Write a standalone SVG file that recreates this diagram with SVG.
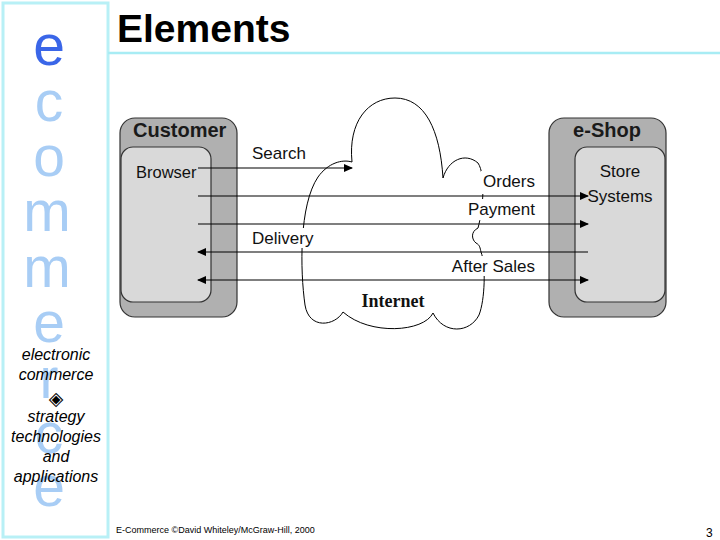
<svg xmlns="http://www.w3.org/2000/svg" width="720" height="540" viewBox="0 0 720 540">
<style>
.side{font-family:"Liberation Sans",Arial,sans-serif;font-size:57px;text-anchor:middle;fill:#a8cdf5}
.it{font-family:"Liberation Sans",Arial,sans-serif;font-size:16px;font-style:italic;text-anchor:middle;fill:#000}
.hdr{font-family:"Liberation Sans",Arial,sans-serif;font-size:20px;font-weight:bold;fill:#1a1a1a}
.lbl{font-family:"Liberation Sans",Arial,sans-serif;font-size:17px;fill:#111}
.outer{fill:#b0b0b0;stroke:#333;stroke-width:1.2}
.inner{fill:#d9d9d9;stroke:#333;stroke-width:1.2}
.ln{stroke:#000;stroke-width:1.2;fill:none}
.bg{fill:#fff}
</style>
<defs>
<marker id="ah" markerWidth="9" markerHeight="8" refX="8" refY="4" orient="auto-start-reverse" markerUnits="userSpaceOnUse">
<path d="M0,0 L9,4 L0,8 Z" fill="#000"/>
</marker>
</defs>
<rect width="720" height="540" fill="#fff"/>
<g id="frame">
<rect x="3" y="3" width="105" height="534" fill="none" stroke="#b8f0f6" stroke-width="3"/>
<line x1="108" y1="53" x2="720" y2="53" stroke="#a8ecf4" stroke-width="2.5"/>
</g>
<g id="sidebar">
<text class="side" x="49" y="65" style="fill:#3a66e8">e</text>
<text class="side" x="49" y="121">c</text>
<text class="side" x="49" y="176">o</text>
<text class="side" x="47" y="231">m</text>
<text class="side" x="47" y="287">m</text>
<text class="side" x="49" y="342">e</text>
<text class="side" x="49" y="398">r</text>
<text class="side" x="49" y="453">c</text>
<text class="side" x="49" y="506">e</text>
<text class="it" x="56" y="360">electronic</text>
<text class="it" x="56" y="380">commerce</text>
<text x="56" y="405" style="font-family:'DejaVu Sans',sans-serif;font-size:19px;text-anchor:middle;fill:#000">◈</text>
<text class="it" x="56" y="422">strategy</text>
<text class="it" x="56" y="442">technologies</text>
<text class="it" x="56" y="462">and</text>
<text class="it" x="56" y="482">applications</text>
</g>
<g id="title">
<text x="117" y="42" style="font-family:'Liberation Sans',Arial,sans-serif;font-size:39px;font-weight:bold;fill:#000">Elements</text>
</g>
<g id="internet">
<path d="M352,162 C348,122 368,98 395,98 C425,98 440,130 443,178 C448,160 465,152 478,163 C486,175 483,210 478,228 C470,232 472,240 476,243 C480,245 480,248 481,252 C486,265 485,300 479,315 C470,333 444,335 433,313 C424,332 370,336 343,312 C335,326 309,330 305,305 C300,270 299,205 318,177 C328,163 342,159 352,162 Z" fill="#fff" stroke="#000" stroke-width="1"/>
<text x="393" y="307" style="font-family:'Liberation Serif','Times New Roman',serif;font-size:18px;font-weight:bold;text-anchor:middle;fill:#111">Internet</text>
</g>
<g id="customer">
<rect class="outer" x="120" y="118" width="117" height="199" rx="15"/>
<rect class="inner" x="121" y="147" width="90" height="155" rx="12"/>
<text class="hdr" x="133" y="137">Customer</text>
<text class="lbl" x="136" y="178" style="font-size:16.5px">Browser</text>
</g>
<g id="eshop">
<rect class="outer" x="549" y="118" width="117" height="199" rx="15"/>
<rect class="inner" x="575" y="147" width="90" height="155" rx="12"/>
<text class="hdr" x="607" y="137" text-anchor="middle">e-Shop</text>
<text class="lbl" x="620" y="177" text-anchor="middle">Store</text>
<text class="lbl" x="620" y="202" text-anchor="middle">Systems</text>
</g>
<g id="connectors">
<line class="ln" x1="198" y1="168" x2="352" y2="168" marker-end="url(#ah)"/>
<line class="ln" x1="198" y1="196" x2="588" y2="196" marker-end="url(#ah)"/>
<line class="ln" x1="198" y1="224" x2="588" y2="224" marker-end="url(#ah)"/>
<line class="ln" x1="588" y1="252" x2="198" y2="252" marker-end="url(#ah)"/>
<line class="ln" x1="198" y1="280" x2="588" y2="280" marker-start="url(#ah)" marker-end="url(#ah)"/>
<rect class="bg" x="250" y="143" width="58" height="19"/>
<text class="lbl" x="252" y="159">Search</text>
<rect class="bg" x="481" y="171" width="57" height="23"/>
<text class="lbl" x="535" y="187" text-anchor="end">Orders</text>
<rect class="bg" x="466" y="199" width="72" height="21"/>
<text class="lbl" x="535" y="215" text-anchor="end">Payment</text>
<rect class="bg" x="250" y="228" width="66" height="20"/>
<text class="lbl" x="252" y="244">Delivery</text>
<rect class="bg" x="450" y="256" width="88" height="20"/>
<text class="lbl" x="535" y="272" text-anchor="end">After Sales</text>
</g>
<g id="footer">
<text x="116" y="533" style="font-family:'Liberation Sans',Arial,sans-serif;font-size:9px;fill:#000">E-Commerce ©David Whiteley/McGraw-Hill, 2000</text>
<text x="706" y="537" style="font-family:'Liberation Sans',Arial,sans-serif;font-size:12px;fill:#000">3</text>
</g>
</svg>
